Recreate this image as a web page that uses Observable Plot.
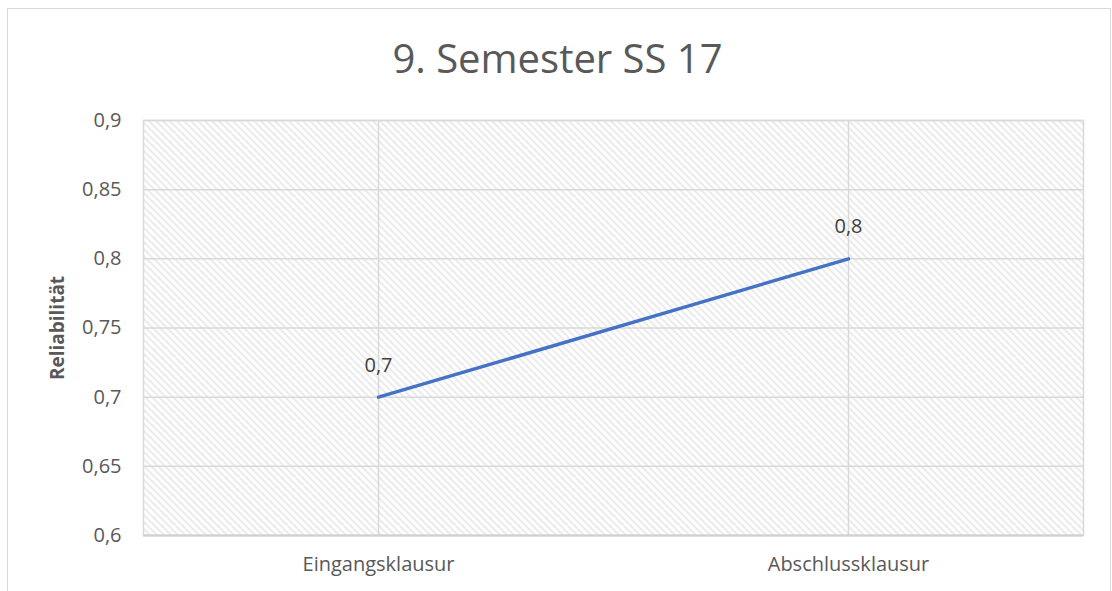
<!DOCTYPE html>
<html>
<head>
<meta charset="utf-8">
<script src="https://cdn.jsdelivr.net/npm/d3@7"></script>
<script src="https://cdn.jsdelivr.net/npm/@observablehq/plot@0.6"></script>
<style>
  html, body { margin: 0; padding: 0; background: #fff; }
  #wrap { position: relative; width: 1112px; height: 591px; }
  #border { position: absolute; left: 7px; top: 8px; width: 1104px; height: 600px; border: 1.5px solid #d9d9d9; box-sizing: border-box; pointer-events: none; }
</style>
</head>
<body>
<div id="wrap"><div id="border"></div></div>
<script>
const categories = ["Eingangsklausur", "Abschlussklausur"];
const values = [0.7, 0.8];
const yTicks = [0.6, 0.65, 0.7, 0.75, 0.8, 0.85, 0.9];
const title = "9. Semester SS 17";
const yLabel = "Reliabilität";

const data = categories.map((c, i) => ({cat: c, val: values[i]}));
const fmt = v => String(v).replace(".", ",");
const font = "'Open Sans', sans-serif";

const chart = Plot.plot({
  width: 1112,
  height: 591,
  marginLeft: 143,
  marginRight: 29,
  marginTop: 120,
  marginBottom: 56,
  style: {fontFamily: font, fontSize: "20px", color: "#595959", background: "transparent"},
  x: {domain: categories, type: "band", padding: 0, label: null, tickSize: 0, tickPadding: 21},
  y: {domain: [0.6, 0.9], ticks: yTicks, tickFormat: fmt, label: null, tickSize: 0, tickPadding: 22},
  marks: [
    Plot.frame({fill: "url(#hatch)", stroke: "none"}),
    Plot.gridY(yTicks, {stroke: "#d9d9d9", strokeOpacity: 1, strokeWidth: 1.5}),
    Plot.gridX(categories, {stroke: "#d9d9d9", strokeOpacity: 1, strokeWidth: 1.5}),
    Plot.frame({stroke: "#d9d9d9", strokeWidth: 1.5}),
    Plot.ruleY([0.6], {stroke: "#d0d0d0", strokeWidth: 2}),
    Plot.line(data, {x: "cat", y: "val", stroke: "#4472C4", strokeWidth: 3.5}),
    Plot.text(data, {x: "cat", y: "val", text: d => fmt(d.val), dy: -32, fill: "#404040", fontSize: 20}),
    Plot.text([title], {frameAnchor: "top", dy: -76, dx: -56, text: d => d, fontSize: 40, fill: "#595959"}),
    Plot.text([yLabel], {frameAnchor: "left", textAnchor: "middle", dx: -86, rotate: -90, text: d => d, fontSize: 19, fontWeight: "bold", fill: "#595959"})
  ]
});

const svg = d3.select(chart);
const defs = svg.insert("defs", ":first-child");
const pat = defs.append("pattern")
  .attr("id", "hatch")
  .attr("patternUnits", "userSpaceOnUse")
  .attr("width", 7).attr("height", 7);
pat.append("rect").attr("width", 7).attr("height", 7).attr("fill", "#fff");
pat.append("path")
  .attr("d", "M-1,-1 L8,8 M-8,-1 L1,8 M6,-1 L15,8")
  .attr("stroke", "#e2e2e2").attr("stroke-width", 1.4);

document.getElementById("wrap").prepend(chart);
</script>
</body>
</html>
